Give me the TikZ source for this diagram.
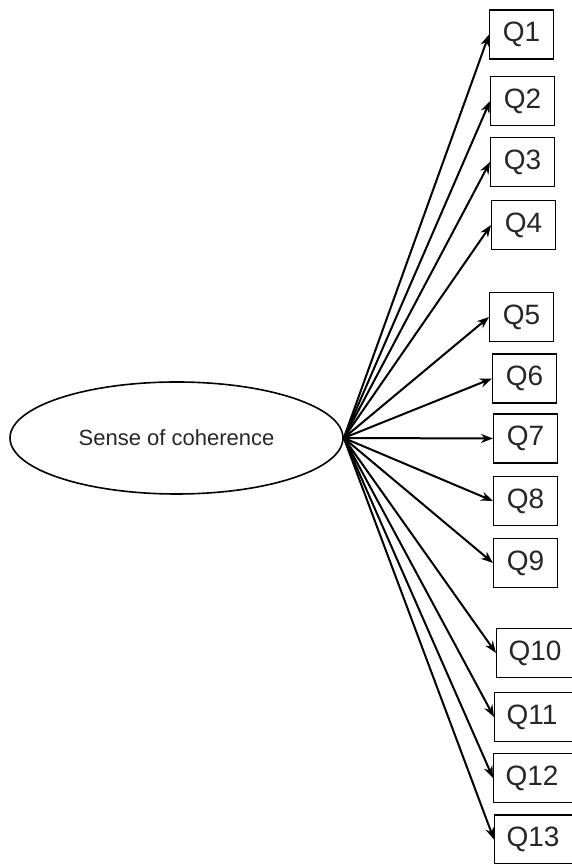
\documentclass[tikz,border=0pt]{standalone}
\usepackage{fontspec}
\setmainfont{Liberation Sans}
\usetikzlibrary{shapes.geometric,arrows.meta}
\begin{document}
\begin{tikzpicture}[x=1pt,y=1pt,
  qbox/.style={draw,line width=1.2pt,anchor=west,minimum width=64pt,minimum height=49pt,inner sep=0pt,font=\fontsize{28}{32}\selectfont,text=black!85},
  qwide/.style={qbox,minimum width=84pt,align=left,text width=60pt,inner xsep=12pt},
  conn/.style={line width=2pt,-{Stealth[length=12pt,width=9pt]}}]
\useasboundingbox (0,0) rectangle (571,864);
\node[ellipse,draw,line width=1.6pt,minimum width=333pt,minimum height=112pt,inner sep=0pt,font=\fontsize{22}{26}\selectfont,text=black!85] (soc) at (176.5,426) {Sense of coherence};
\coordinate (src) at (soc.east);
\node[qbox] (q1) at (489,829.5) {Q1};
\node[qbox] (q2) at (490,763) {Q2};
\node[qbox] (q3) at (490,702) {Q3};
\node[qbox] (q4) at (491,639) {Q4};
\node[qbox] (q5) at (489,547) {Q5};
\node[qbox] (q6) at (492,485.5) {Q6};
\node[qbox] (q7) at (493,425.5) {Q7};
\node[qbox] (q8) at (493,363) {Q8};
\node[qbox] (q9) at (493,301) {Q9};
\node[qwide] (q10) at (496,211) {Q10};
\node[qwide] (q11) at (494,147) {Q11};
\node[qwide] (q12) at (493,86) {Q12};
\node[qwide] (q13) at (494,24.5) {Q13};
\foreach \q in {q1,q2,q3,q4,q5,q6,q7,q8,q9,q10,q11,q12,q13}
  \draw[conn] (src) -- (\q.west);
\end{tikzpicture}
\end{document}
